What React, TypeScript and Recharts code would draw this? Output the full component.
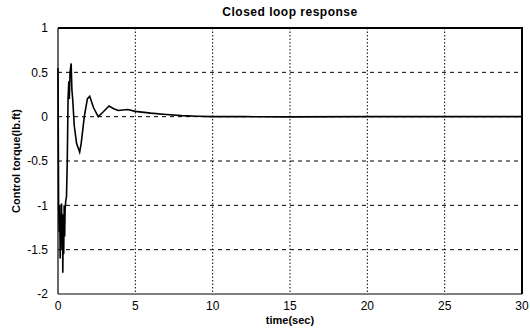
import React from "react";
import { LineChart, Line, XAxis, YAxis, CartesianGrid, Label, ReferenceLine } from "recharts";

const timeSec = [0, 0.04, 0.08, 0.11, 0.14, 0.17, 0.2, 0.23, 0.26, 0.29, 0.31, 0.34, 0.37, 0.4, 0.43, 0.46, 0.5, 0.55, 0.6, 0.65, 0.7, 0.73, 0.78, 0.85, 0.9, 0.95, 1.05, 1.2, 1.4, 1.5, 1.7, 1.9, 2.05, 2.3, 2.6, 2.9, 3.3, 3.6, 3.9, 4.5, 5, 6, 7, 8, 9, 10, 12, 15, 20, 25, 30];
const torque = [0.55, -1.0, -1.3, -1.0, -1.6, -1.1, -1.45, -0.98, -1.5, -1.1, -1.76, -1.2, -1.55, -1.0, -1.35, -1.05, -0.95, -0.9, -0.5, 0.2, 0.4, 0.2, 0.5, 0.6, 0.3, 0.2, -0.1, -0.3, -0.4, -0.3, 0.0, 0.2, 0.23, 0.1, 0.0, 0.05, 0.12, 0.09, 0.07, 0.08, 0.06, 0.04, 0.025, 0.012, 0.005, 0, 0, -0.002, 0, 0, 0];
const xTicks = [0, 5, 10, 15, 20, 25, 30];
const yTicks = [-2, -1.5, -1, -0.5, 0, 0.5, 1];
const xMin = 0;
const xMax = 30;
const yMin = -2;
const yMax = 1;

const data = timeSec.map((t, i) => ({ t, v: torque[i] }));

const font = "'Liberation Sans', Arial, sans-serif";

const W = 530;
const H = 328;
const M = { top: 28, right: 8, left: 0, bottom: 0 };
const Y_AXIS_W = 58;
const X_AXIS_H = 34;

export default function App() {
  return (
    <div style={{ position: "absolute", left: 0, top: 0, width: W, height: H, background: "#fff" }}>
      <div
        style={{
          position: "absolute",
          left: 0,
          width: 580,
          top: 5,
          textAlign: "center",
          fontFamily: font,
          fontWeight: "bold",
          fontSize: 12,
          letterSpacing: 0.5,
          color: "#000",
        }}
      >
        Closed loop response
      </div>
      <LineChart width={W} height={H} data={data} margin={M}>
        <CartesianGrid vertical={false} stroke="#000" strokeDasharray="4 4" horizontalValues={[-1.5, -1, -0.5, 0, 0.5]} />
        <CartesianGrid horizontal={false} stroke="#000" strokeDasharray="1.5 2" verticalValues={[5, 10, 15, 20, 25]} />
        <XAxis
          dataKey="t"
          type="number"
          domain={[xMin, xMax]}
          ticks={xTicks}
          height={X_AXIS_H}
          stroke="#000"
          strokeWidth={1.2}
          tickLine={false}
          tick={{ fill: "#000", fontSize: 12, fontFamily: font }}
          tickMargin={1}
        >
          <Label value="time(sec)" position="insideBottom" offset={4} style={{ fill: "#000", fontSize: 11, fontWeight: "bold", fontFamily: font }} />
        </XAxis>
        <YAxis
          type="number"
          domain={[yMin, yMax]}
          ticks={yTicks}
          width={Y_AXIS_W}
          stroke="#000"
          strokeWidth={1.2}
          tickLine={false}
          tick={{ fill: "#000", fontSize: 12, fontFamily: font }}
          tickMargin={4}
        >
          <Label value="Control torque(lb.ft)" angle={-90} position="insideLeft" offset={16} style={{ textAnchor: "middle", fill: "#000", fontSize: 11, fontWeight: "bold", fontFamily: font }} />
        </YAxis>
        <ReferenceLine y={yMax} stroke="#000" strokeWidth={2} ifOverflow="extendDomain" />
        <ReferenceLine x={xMax} stroke="#000" strokeWidth={2} ifOverflow="extendDomain" />
        <Line type="linear" dataKey="v" stroke="#000" strokeWidth={1.6} dot={false} isAnimationActive={false} />
      </LineChart>
      <div
        style={{
          position: "absolute",
          pointerEvents: "none",
          left: M.left + Y_AXIS_W,
          top: M.top - 1,
          width: W - M.left - M.right - Y_AXIS_W + 1,
          height: H - M.top - M.bottom - X_AXIS_H + 1,
          borderTop: "2px solid #000",
          borderRight: "2px solid #000",
          boxSizing: "border-box",
          zIndex: 5,
        }}
      />
    </div>
  );
}
